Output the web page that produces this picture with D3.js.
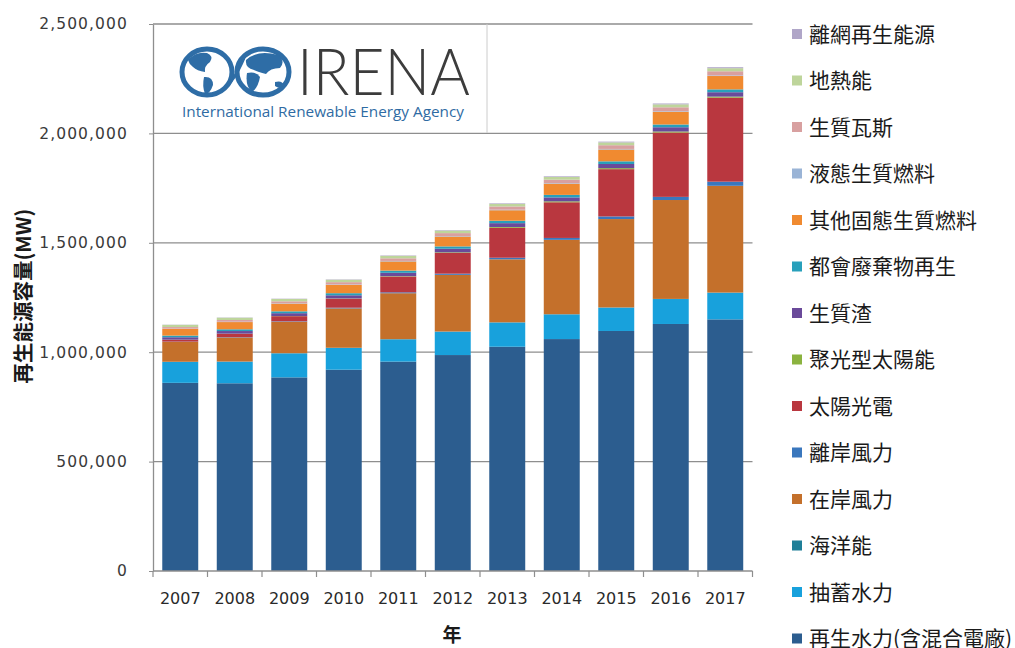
<!DOCTYPE html>
<html><head><meta charset="utf-8">
<script src="https://cdn.jsdelivr.net/npm/d3@7"></script>
<style>body{margin:0;background:#fff} svg{display:block}</style>
</head><body><svg id="c" width="1015" height="648"></svg>
<script>
const years = [2007,2008,2009,2010,2011,2012,2013,2014,2015,2016,2017];
const hydro   = [860000,858000,885000,920000,957000,987000,1025000,1060000,1097000,1129000,1150000];
const pumped  = [96000,99000,110000,100000,102000,107000,111000,113000,107000,114000,122000];
const marine  = [250,250,250,250,510,510,510,520,520,520,530];
const onshore = [91000,110000,144000,180000,210000,259000,288000,340000,404000,452000,488000];
const offshore= [1100,1500,2100,3100,4100,5400,7200,8700,12000,14400,18800];
const solarPV = [8600,15500,23300,41000,72000,95000,137000,163000,216000,294000,384000];
const csp     = [430,480,700,1300,1800,2600,3600,4300,4700,4800,4900];
const bagasse = [11000,12000,13000,14500,15500,16500,17500,18000,19000,19500,20000];
const msw     = [7500,8000,8500,9500,10000,10500,11000,11500,12200,12500,13000];
const solidBio= [31000,33000,35000,38000,42000,45000,48000,51000,54000,58000,61000];
const liquidBio=[1000,1500,1800,2000,2200,2300,2400,2500,2600,2700,2800];
const biogas  = [7000,8000,9000,10500,12000,13500,15000,16000,17000,18000,19000];
const geothermal=[10000,10300,10600,10900,11100,11400,11800,12400,12900,13300,14000];
const offgrid = [1000,1200,1400,1700,2000,2300,2600,3000,3500,4000,4500];

const seriesNames = ["再生水力(含混合電廠)","抽蓄水力","海洋能","在岸風力","離岸風力","太陽光電","聚光型太陽能","生質渣","都會廢棄物再生","其他固態生質燃料","液態生質燃料","生質瓦斯","地熱能","離網再生能源"];
const seriesValues = [hydro,pumped,marine,onshore,offshore,solarPV,csp,bagasse,msw,solidBio,liquidBio,biogas,geothermal,offgrid];
const seriesColors = ["#2c5d8f","#18a1dc","#1f7f98","#c4702b","#3a77bd","#b9373f","#8bb33f","#6a4a9a","#28a0bb","#f08a30","#9ab4d6","#d8a0a0","#bed59b","#b0a6c8"];
const yTicks = [0,500000,1000000,1500000,2000000,2500000];
const xTitle = "年";
const yTitle = "再生能源容量(MW)";

const svg = d3.select("#c");
const table = years.map((yr,i)=>{const o={year:yr}; seriesNames.forEach((n,k)=>o[n]=seriesValues[k][i]); return o;});
const stack = d3.stack().keys(seriesNames)(table);

const x = d3.scaleBand().domain(years).range([153,752.5]).paddingInner(0.34).paddingOuter(0.17);
const y = d3.scaleLinear().domain([0,2500000]).range([571,24]);
const color = d3.scaleOrdinal().domain(seriesNames).range(seriesColors);

// gridlines
svg.append("g").selectAll("line").data(yTicks.filter(d=>d>0)).join("line")
  .attr("x1",153).attr("x2",752.5).attr("y1",d=>y(d)).attr("y2",d=>y(d))
  .attr("stroke","#8e8e8e").attr("stroke-width",1.3);

// logo
const logo = svg.append("g");
logo.append("line").attr("x1",487).attr("x2",487).attr("y1",24).attr("y2",133).attr("stroke","#cccccc").attr("stroke-width",1);
const blue="#2e6da6";
[[207,72,25,23],[263,72,26,23]].forEach(c=>{
  logo.append("ellipse").attr("cx",c[0]).attr("cy",c[1]).attr("rx",c[2]).attr("ry",c[3])
    .attr("fill","#ffffff").attr("stroke",blue).attr("stroke-width",5);
});
logo.append("path").attr("fill",blue).attr("d","M188,60 q8,-9 19,-7 q7,3 3,9 q-6,4 -5,10 q-8,-1 -12,-5 q-4,-3 -5,-7 z");
logo.append("path").attr("fill",blue).attr("d","M204,77 q9,-1 9,8 q-3,9 -8,9 q-3,-8 -1,-17 z");
logo.append("path").attr("fill",blue).attr("d","M246,60 q12,-11 32,-5 q8,6 2,13 q-10,0 -14,6 q-8,-2 -12,-4 q-9,-2 -8,-10 z");
logo.append("path").attr("fill",blue).attr("d","M247,73 q9,-2 13,4 q-2,11 -8,15 q-7,-6 -5,-19 z");
logo.append("path").attr("fill",blue).attr("d","M275,82 q7,-2 9,3 q-4,5 -9,1 z");
logo.append("path").attr("fill","none").attr("stroke",blue).attr("stroke-width",3).attr("d","M222,90 q12,-8 22,-32");
logo.append("text").attr("x",297).attr("y",95).attr("textLength",173).attr("lengthAdjust","spacingAndGlyphs")
  .attr("font-family","Lato, 'DejaVu Sans', sans-serif").attr("font-weight",300).attr("font-size",66)
  .attr("fill","#3c3c3c").text("IRENA");
logo.append("text").attr("x",182).attr("y",117).attr("textLength",282).attr("lengthAdjust","spacingAndGlyphs")
  .attr("font-family","'Open Sans', 'DejaVu Sans', sans-serif").attr("font-size",15)
  .attr("fill","#2f6ba3").text("International Renewable Energy Agency");

// bars
svg.append("g").selectAll("g").data(stack).join("g").attr("fill",d=>color(d.key))
  .selectAll("rect").data(d=>d).join("rect")
  .attr("x",d=>x(d.data.year)).attr("width",x.bandwidth())
  .attr("y",d=>y(d[1])).attr("height",d=>Math.max(0,y(d[0])-y(d[1])));

// y axis
const ya = svg.append("g").attr("transform","translate(153,0)")
  .call(d3.axisLeft(y).tickValues(yTicks).tickFormat(d3.format(",")).tickSize(4).tickSizeOuter(0).tickPadding(21));
ya.select(".domain").attr("stroke","#8e8e8e").attr("stroke-width",1.3);
ya.selectAll(".tick line").attr("stroke","#8e8e8e");
ya.selectAll("text").attr("font-family","'DejaVu Sans', sans-serif").attr("font-size",15.5)
  .attr("letter-spacing",1.1).attr("fill","#3a3a3a");

// x axis
const xa = svg.append("g").attr("transform","translate(0,571)")
  .call(d3.axisBottom(x).tickSize(0).tickPadding(22).tickSizeOuter(0));
xa.select(".domain").remove();
xa.selectAll("text").attr("font-family","'DejaVu Sans', sans-serif").attr("font-size",16).attr("fill","#2a2a2a");
svg.append("line").attr("x1",153).attr("x2",752.5).attr("y1",571).attr("y2",571).attr("stroke","#8e8e8e").attr("stroke-width",1.3);
const step = x.step();
svg.append("g").selectAll("line").data(d3.range(years.length+1)).join("line")
  .attr("x1",i=>153+i*step).attr("x2",i=>153+i*step).attr("y1",571).attr("y2",577)
  .attr("stroke","#8e8e8e").attr("stroke-width",1.2);

// titles
svg.append("text").attr("x",452).attr("y",642).attr("text-anchor","middle")
  .attr("font-family","'Noto Sans CJK TC', sans-serif").attr("font-weight","bold").attr("font-size",19)
  .attr("fill","#1a1a1a").text(xTitle);
svg.append("text").attr("transform","translate(31,296) rotate(-90)").attr("text-anchor","middle")
  .attr("font-family","'Noto Sans CJK TC', sans-serif").attr("font-weight","bold").attr("font-size",20.5)
  .attr("fill","#1a1a1a").text(yTitle);

// legend
const legendItems = seriesNames.slice().reverse();
const lg = svg.append("g").selectAll("g").data(legendItems).join("g")
  .attr("transform",(d,i)=>`translate(792,${34+i*46.5})`);
lg.append("rect").attr("x",0).attr("y",-5).attr("width",10).attr("height",10).attr("fill",d=>color(d));
lg.append("text").attr("x",17).attr("y",0).attr("dy","0.36em")
  .attr("font-family","'Noto Sans CJK TC', sans-serif").attr("font-size",21).attr("fill","#1a1a1a").text(d=>d);
</script></body></html>
